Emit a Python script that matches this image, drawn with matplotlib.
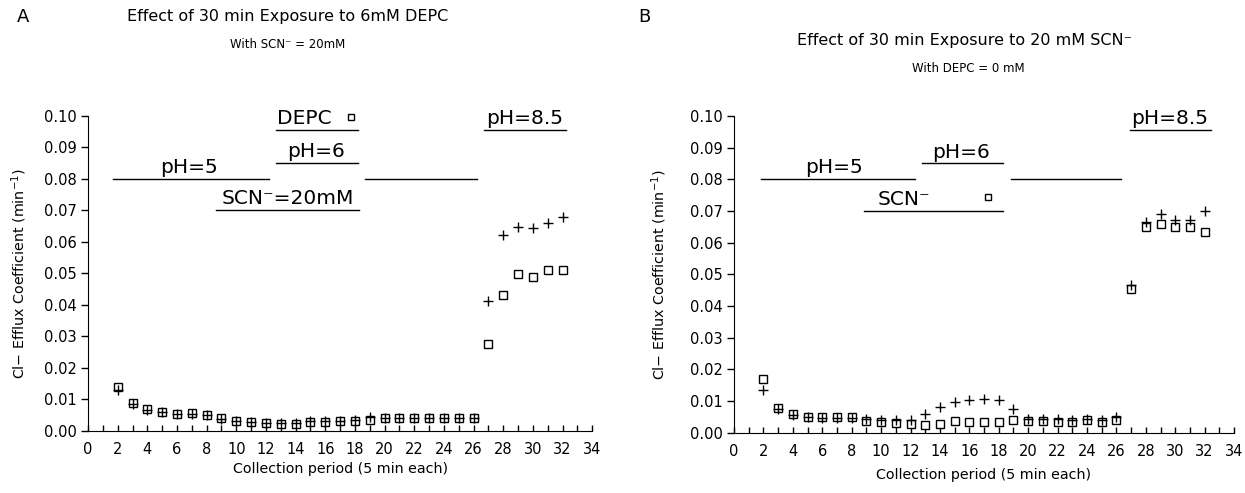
import matplotlib.pyplot as plt

plt.rcParams['font.family'] = ['DejaVu Sans']

# collection periods
periods = list(range(2, 33))

# panel A: 6mM DEPC with SCN- 20mM
a_square = [0.0140, 0.0088, 0.0068, 0.0060, 0.0055, 0.0057, 0.0052, 0.0040, 0.0030, 0.0027,
            0.0025, 0.0023, 0.0022, 0.0028, 0.0028, 0.0030, 0.0030, 0.0035, 0.0040, 0.0040,
            0.0040, 0.0040, 0.0042, 0.0040, 0.0040, 0.0276, 0.0430, 0.0498, 0.0488, 0.0510,
            0.0512]
a_plus = [0.0129, 0.0085, 0.0065, 0.0060, 0.0055, 0.0055, 0.0050, 0.0038, 0.0030, 0.0027,
          0.0025, 0.0025, 0.0025, 0.0030, 0.0030, 0.0032, 0.0033, 0.0045, 0.0042, 0.0040,
          0.0040, 0.0040, 0.0042, 0.0040, 0.0040, 0.0413, 0.0623, 0.0648, 0.0645, 0.0660,
          0.0678]

# panel B: 20 mM SCN- with DEPC 0 mM
b_square = [0.0170, 0.0077, 0.0058, 0.0050, 0.0050, 0.0050, 0.0050, 0.0038, 0.0035, 0.0030,
            0.0029, 0.0026, 0.0029, 0.0036, 0.0034, 0.0035, 0.0035, 0.0041, 0.0036, 0.0036,
            0.0035, 0.0035, 0.0040, 0.0035, 0.0042, 0.0455, 0.0650, 0.0660, 0.0650, 0.0650,
            0.0635]
b_plus = [0.0134, 0.0075, 0.0055, 0.0050, 0.0048, 0.0048, 0.0048, 0.0043, 0.0042, 0.0040,
          0.0042, 0.0060, 0.0080, 0.0096, 0.0103, 0.0108, 0.0105, 0.0075, 0.0045, 0.0045,
          0.0043, 0.0042, 0.0043, 0.0040, 0.0050, 0.0465, 0.0665, 0.0690, 0.0670, 0.0670,
          0.0700]

xticks = list(range(0, 35, 2))
yticks = [i / 100 for i in range(0, 11)]

# annotation bars: (x0, x1, y, label, label_x)
a_bars = [
    (1.7, 12.2, 0.080, "pH=5", 6.8),
    (12.7, 18.2, 0.085, "pH=6", 15.4),
    (12.7, 18.2, 0.0955, "DEPC", 14.6),
    (8.6, 18.25, 0.070, "SCN\u207b=20mM", 13.45),
    (18.7, 26.25, 0.080, "", 0),
    (26.7, 32.2, 0.0955, "pH=8.5", 29.45),
]
b_bars = [
    (1.8, 12.3, 0.080, "pH=5", 6.8),
    (12.8, 18.3, 0.085, "pH=6", 15.45),
    (8.85, 18.3, 0.070, "SCN\u207b", 11.55),
    (18.85, 26.3, 0.080, "", 0),
    (26.9, 32.4, 0.0955, "pH=8.5", 29.6),
]

fig = plt.figure(figsize=(12.45, 4.93), dpi=100)
ax_a = fig.add_axes([0.0707, 0.126, 0.405, 0.639])
ax_b = fig.add_axes([0.5896, 0.122, 0.4016, 0.643])


def draw_panel(ax, sq, pl, bars, legend_sq, label_x, label_y):
    ax.plot(periods, sq, ls='none', marker='s', ms=5.3, mfc='white', mec='black', mew=1.0)
    ax.plot(periods, pl, ls='none', marker='+', ms=7, mec='black', mew=1.0)
    for x0, x1, y, label, lx in bars:
        ax.plot([x0, x1], [y, y], color='black', lw=1.0)
        if label:
            ax.text(lx, y + 0.0006, label, ha='center', va='bottom', fontsize=14.5)
    ax.plot([legend_sq[0]], [legend_sq[1]], ls='none', marker='s', ms=5, mfc='white',
            mec='black', mew=1.0, clip_on=False)
    ax.set_xlim(0, 34)
    ax.set_ylim(0, 0.1)
    ax.set_xticks(xticks)
    ax.set_xticks(range(0, 35), minor=True)
    ax.set_yticks(yticks)
    ax.set_yticklabels(["%.2f" % v for v in yticks])
    ax.tick_params(axis='x', which='both', direction='in', length=4, width=1, pad=8,
                   labelsize=10.5)
    ax.tick_params(axis='y', direction='out', length=5, width=1, pad=3, labelsize=10.5)
    ax.spines['top'].set_visible(False)
    ax.spines['right'].set_visible(False)
    ax.set_xlabel("Collection period (5 min each)", fontsize=10.3)
    ax.set_ylabel("Cl\u2212 Efflux Coefficient (min$^{-1}$)", fontsize=10.3)
    ax.xaxis.set_label_coords(0.5, label_x)
    ax.yaxis.set_label_coords(label_y, 0.5)


draw_panel(ax_a, a_square, a_plus, a_bars, (17.7, 0.0995), -0.10, -0.118)
draw_panel(ax_b, b_square, b_plus, b_bars, (17.3, 0.0745), -0.11, -0.13)

fig.text(17 / 1245, 1 - 17 / 493, "A", fontsize=13, ha='left', va='center')
fig.text(288 / 1245, 1 - 17 / 493, "Effect of 30 min Exposure to 6mM DEPC", fontsize=11.5,
         ha='center', va='center')
fig.text(288 / 1245, 1 - 44 / 493, "With SCN\u207b = 20mM", fontsize=8.5, ha='center', va='center')

fig.text(638 / 1245, 1 - 17 / 493, "B", fontsize=13, ha='left', va='center')
fig.text(965 / 1245, 1 - 40 / 493, "Effect of 30 min Exposure to 20 mM SCN\u207b", fontsize=11.5,
         ha='center', va='center')
fig.text(968 / 1245, 1 - 68 / 493, "With DEPC = 0 mM", fontsize=8.5, ha='center', va='center')

fig.savefig("out.png", dpi=100)
